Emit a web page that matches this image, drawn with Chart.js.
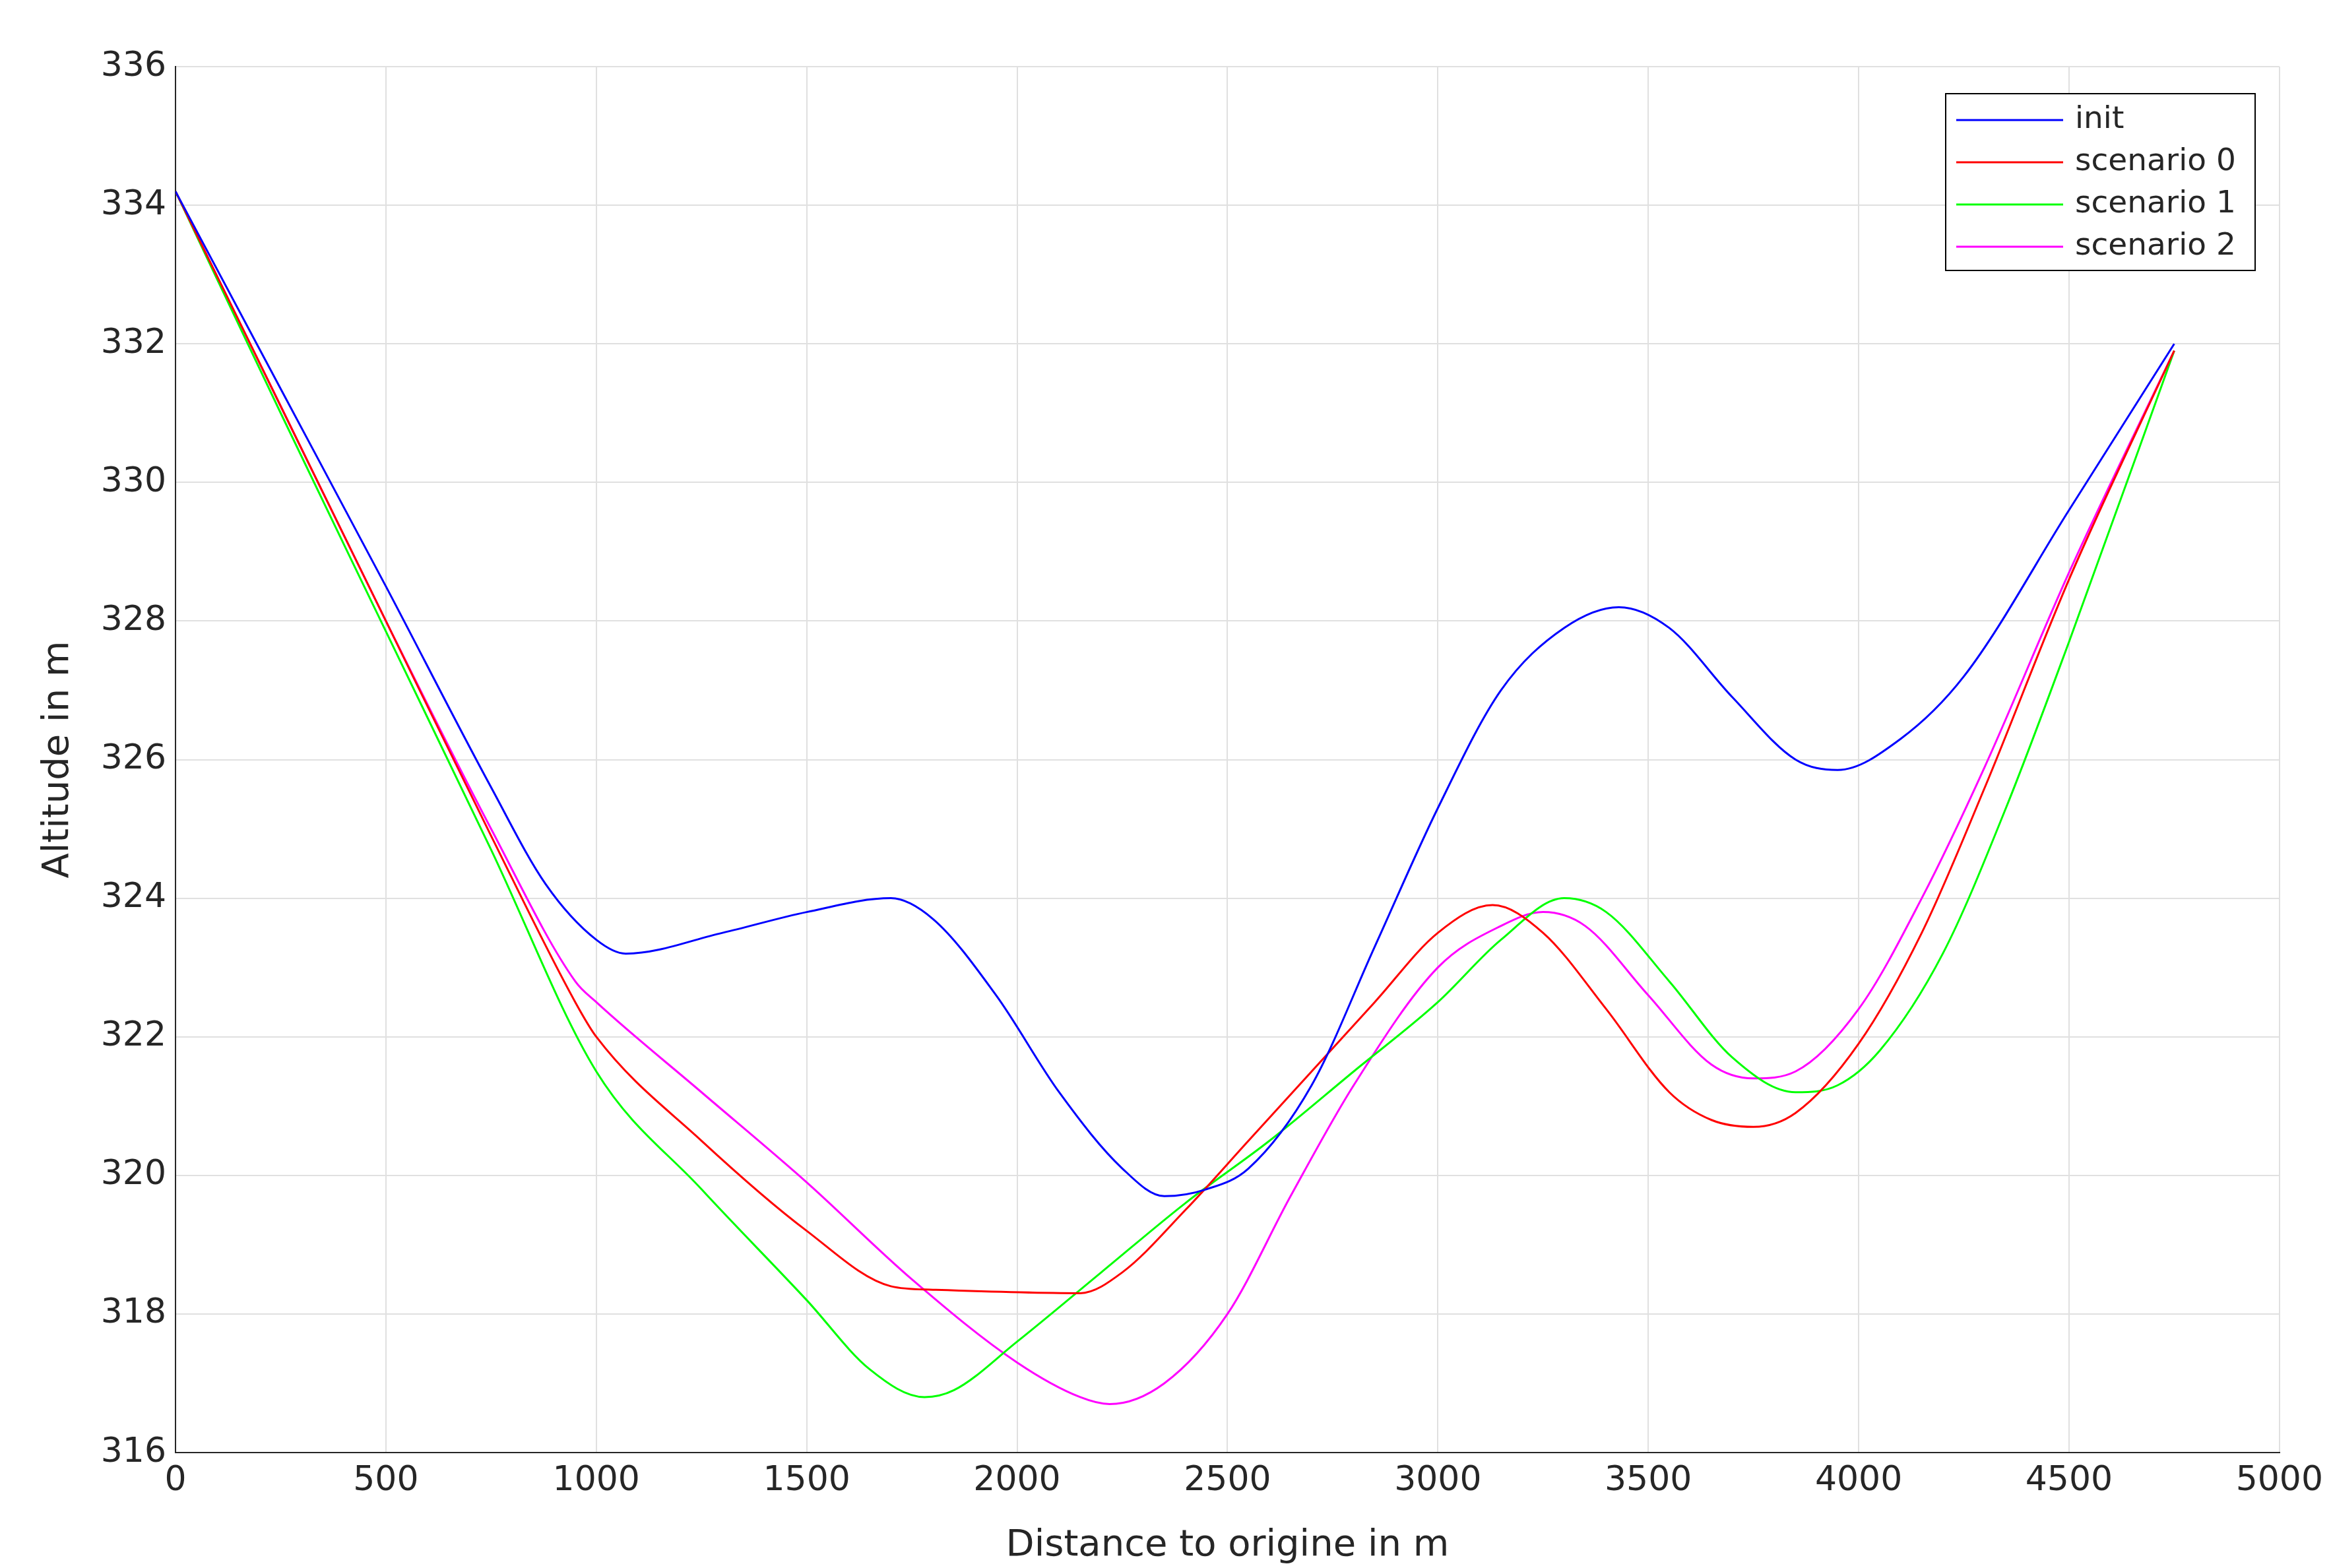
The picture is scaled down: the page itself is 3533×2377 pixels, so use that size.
<!DOCTYPE html>
<html><head><meta charset="utf-8">
<script src="https://cdn.jsdelivr.net/npm/chart.js@4"></script>
<style>html,body{margin:0;padding:0;background:#fff}</style>
</head><body>
<canvas id="c" width="3533" height="2377"></canvas>
<script>
const seriesNames = ["init","scenario 0","scenario 1","scenario 2"];
const seriesColors = ["#0000ff","#ff0000","#00ff00","#ff00ff"];
const initX = [0,250,500,750,880,1000,1070,1300,1500,1700,1800,1950,2100,2250,2350,2450,2550,2700,2850,3000,3150,3300,3430,3550,3700,3850,3950,4100,4250,4500,4750];
const initY = [334.2,331.35,328.5,325.6,324.2,323.4,323.2,323.5,323.8,324.0,323.7,322.6,321.2,320.1,319.7,319.8,320.1,321.3,323.3,325.3,327.0,327.9,328.2,327.9,326.9,326.0,325.85,326.3,327.2,329.6,332.0];
const s0X = [0,250,500,750,950,1000,1250,1500,1700,1800,2150,2250,2400,2550,2700,2850,3000,3130,3250,3400,3550,3650,3750,3850,4000,4150,4300,4500,4750];
const s0Y = [334.2,331.1,328.0,324.9,322.5,322.0,320.5,319.2,318.4,318.35,318.3,318.6,319.5,320.5,321.5,322.5,323.5,323.9,323.5,322.4,321.2,320.8,320.7,320.9,321.9,323.5,325.6,328.6,331.9];
const s1X = [0,250,500,750,1000,1250,1500,1650,1780,1850,2000,2200,2400,2600,2800,3000,3150,3300,3400,3550,3700,3850,3950,4050,4200,4350,4500,4750];
const s1Y = [334.2,331.0,327.85,324.7,321.5,319.8,318.2,317.2,316.8,316.9,317.6,318.6,319.6,320.5,321.5,322.5,323.4,324.0,323.8,322.8,321.7,321.2,321.3,321.8,323.2,325.3,327.7,331.9];
const s2X = [0,250,500,750,950,1000,1250,1500,1750,2000,2150,2220,2350,2500,2650,2800,3000,3150,3250,3350,3500,3650,3750,3850,4000,4150,4300,4500,4750];
const s2Y = [334.2,331.1,328.0,325.0,322.8,322.5,321.2,319.9,318.5,317.3,316.8,316.7,317.0,318.0,319.7,321.3,323.0,323.6,323.8,323.6,322.6,321.6,321.4,321.5,322.4,324.0,325.9,328.7,331.9];
const xs=[initX,s0X,s1X,s2X], ys=[initY,s0Y,s1Y,s2Y];
const FONT="'DejaVu Sans', sans-serif";
const legendPlugin={id:'boxLegend',afterDraw(ch){
  const c=ch.ctx;c.save();
  const x0=2949,y0=142,w=469,h=268;
  c.fillStyle='#fff';c.fillRect(x0,y0,w,h);
  c.strokeStyle='#000';c.lineWidth=2;c.strokeRect(x0,y0,w,h);
  c.font='47px '+FONT;c.textBaseline='middle';
  ch.data.datasets.forEach((d,i)=>{
    const y=182+i*64;
    c.strokeStyle=d.borderColor;c.lineWidth=3;
    c.beginPath();c.moveTo(2965,y);c.lineTo(3127,y);c.stroke();
    c.fillStyle='#262626';c.fillText(d.label,3145,y);
  });
  c.restore();
}};
new Chart(document.getElementById('c'),{
  type:'line',
  data:{datasets:seriesNames.map((n,i)=>({label:n,borderColor:seriesColors[i],backgroundColor:seriesColors[i],
    data:xs[i].map((x,j)=>({x:x,y:ys[i][j]})),borderWidth:3,pointRadius:0,fill:false,cubicInterpolationMode:'monotone'}))},
  options:{responsive:false,devicePixelRatio:1,animation:false,
    layout:{padding:{top:101,right:70,left:55,bottom:0}},
    plugins:{legend:{display:false},tooltip:{enabled:false}},
    scales:{
      x:{type:'linear',min:0,max:5000,
        ticks:{stepSize:500,font:{size:52,family:FONT},color:'#262626',padding:12,maxRotation:0,callback:v=>String(v)},
        grid:{color:'#e0e0e0',lineWidth:2,tickLength:0},border:{color:'#262626',width:2},
        title:{display:true,text:'Distance to origine in m',font:{size:56,family:FONT},color:'#262626',padding:{top:0,bottom:0}},
        afterFit(s){s.height=175;}},
      y:{min:316,max:336,
        ticks:{stepSize:2,font:{size:52,family:FONT},color:'#262626',padding:14,callback:v=>String(v)},
        grid:{color:'#e0e0e0',lineWidth:2,tickLength:0},border:{color:'#262626',width:2},
        title:{display:true,text:'Altitude in m',font:{size:56,family:FONT},color:'#262626',padding:0},
        afterFit(s){s.width=211;}}
    }},
  plugins:[legendPlugin]
});
</script></body></html>
